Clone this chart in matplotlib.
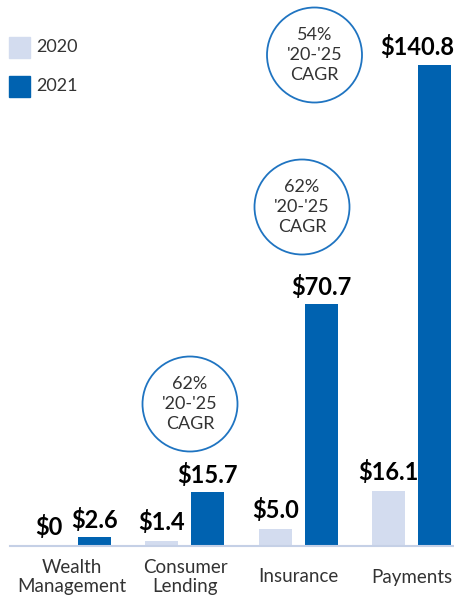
import matplotlib
matplotlib.use("Agg")
import matplotlib.pyplot as plt
import numpy as np
from matplotlib.patches import Circle, Rectangle

categories = ["Wealth\nManagement", "Consumer\nLending", "Insurance", "Payments"]
years = ["2020", "2021"]
values_2020 = [0, 1.4, 5.0, 16.1]
values_2021 = [2.6, 15.7, 70.7, 140.8]
labels_2020 = ["$0", "$1.4", "$5.0", "$16.1"]
labels_2021 = ["$2.6", "$15.7", "$70.7", "$140.8"]
cagr_notes = ["62%\n'20-'25\nCAGR", "62%\n'20-'25\nCAGR", "54%\n'20-'25\nCAGR"]

C2020 = "#d3dcef"
C2021 = "#0062b0"
TXT = "#333333"
FONT = "Lato"

W, H = 454, 596
fig = plt.figure(figsize=(W / 100, H / 100), dpi=100)

pitch = 113.35
x0 = 71.6
left_px, right_px = 10, 454
base_px = 546
ppu = 3.416
ymax = 150
ax = fig.add_axes([left_px / W, (H - base_px) / H, (right_px - left_px) / W, ymax * ppu / H])
ax.set_xlim((left_px - x0) / pitch, (right_px - x0) / pitch)
ax.set_ylim(0, ymax)

x = np.arange(len(categories))
bw = 33 / pitch
off = 23 / pitch
b1 = ax.bar(x - off, values_2020, width=bw, color=C2020, zorder=2)
b2 = ax.bar(x + off, values_2021, width=bw, color=C2021, zorder=2)

for rect, lab in zip(b1, labels_2020):
    ax.annotate(lab, (rect.get_x() + rect.get_width() / 2, rect.get_height()),
                xytext=(0, 5), textcoords="offset points", ha="center", va="bottom",
                fontsize=17, fontweight="bold", family=FONT, color="black")
for i, (rect, lab) in enumerate(zip(b2, labels_2021)):
    if i == len(labels_2021) - 1:
        xy = (rect.get_x() + rect.get_width(), rect.get_height())
        ha = "right"
        dx = 2
    else:
        xy = (rect.get_x() + rect.get_width() / 2, rect.get_height())
        ha = "center"
        dx = 0
    ax.annotate(lab, xy, xytext=(dx, 4), textcoords="offset points", ha=ha, va="bottom",
                fontsize=17, fontweight="bold", family=FONT, color="black")

for s in ["top", "right", "left"]:
    ax.spines[s].set_visible(False)
ax.spines["bottom"].set_color("#c5d0e6")
ax.spines["bottom"].set_linewidth(1.5)
ax.set_yticks([])
ax.set_xticks(x)
ax.set_xticklabels([])
ax.tick_params(axis="x", length=0)
ax.patch.set_visible(False)

label_y = (H - 577) / H
for xi, cat in zip(x, categories):
    px = ax.transData.transform((xi, 0))[0]
    fig.text(px / W, label_y, cat, fontsize=13.5, family=FONT, color=TXT,
             ha="center", va="center", linespacing=1.2)

# legend
for (ly, yr, col) in [(47, years[0], C2020), (86, years[1], C2021)]:
    fig.patches.append(Rectangle((9 / W, (H - ly - 10.5) / H), 21 / W, 21 / H,
                                 transform=fig.transFigure, color=col, figure=fig))
    fig.text(36 / W, (H - ly) / H, yr, fontsize=13, family=FONT, color=TXT,
             va="center", ha="left")

# CAGR circles
centers = [(190, 404), (302, 207), (314.5, 55)]
for (cx, cy), note in zip(centers, cagr_notes):
    c = Circle((cx / 100, (H - cy) / 100), 0.475, transform=fig.dpi_scale_trans,
               fill=False, edgecolor="#1f74c1", lw=1.3)
    fig.patches.append(c)
    fig.text(cx / W, (H - cy) / H, note, fontsize=13, family=FONT, color=TXT,
             ha="center", va="center", linespacing=1.3)

fig.savefig("out.png", dpi=100)
